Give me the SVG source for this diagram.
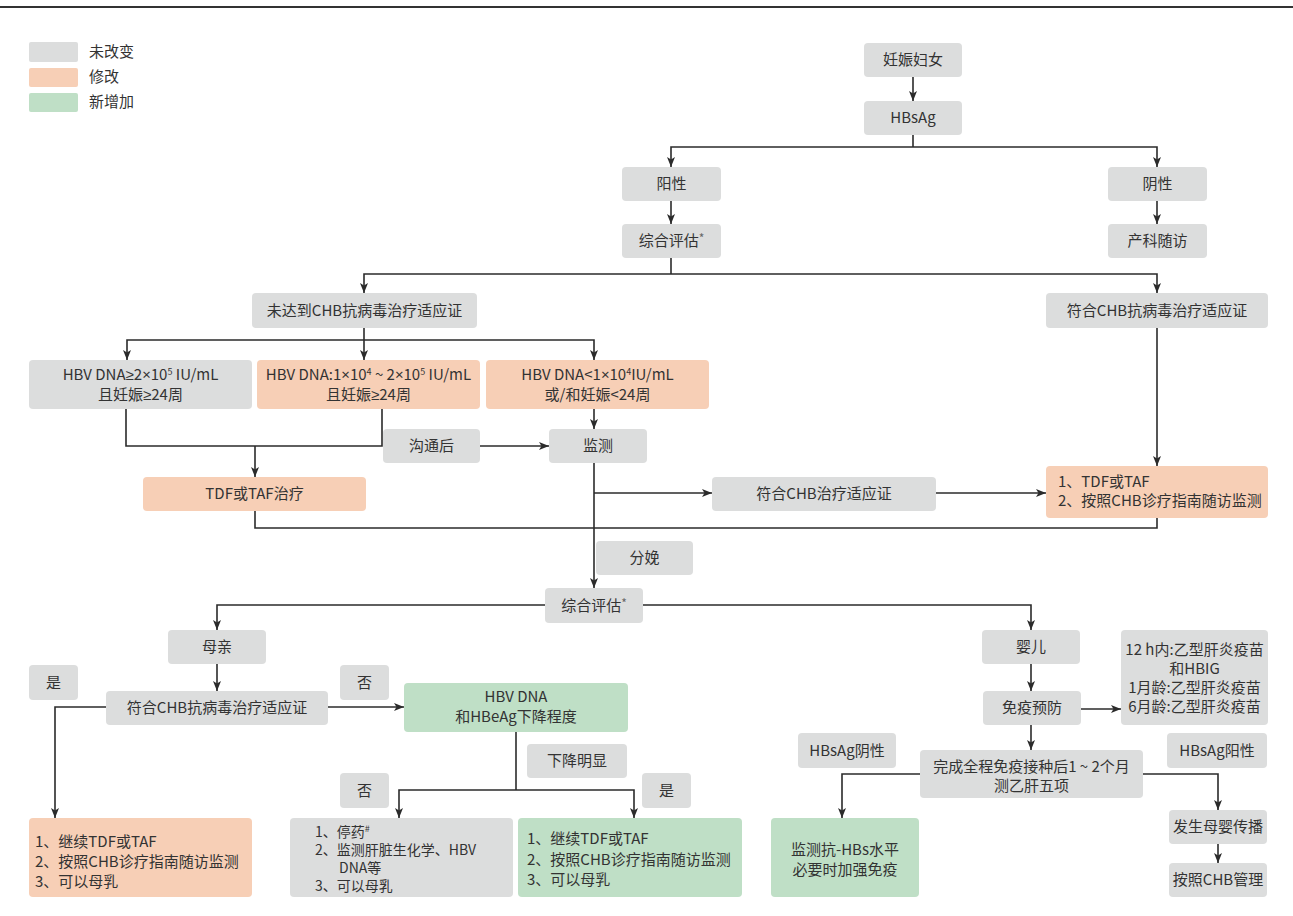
<svg xmlns="http://www.w3.org/2000/svg" width="1293" height="916" viewBox="0 0 1293 916">
<defs>
<marker id="ah" markerUnits="userSpaceOnUse" markerWidth="10" markerHeight="8" refX="10" refY="4" orient="auto">
<path d="M0,0 L10,4 L0,8 L2.5,4 z" fill="#2b2b2b"/>
</marker>
<style>
.g{fill:#dcdddd}
.o{fill:#f7cfb6}
.n{fill:#bfdfc6}
text{font-family:"Noto Sans CJK SC","Noto Sans",sans-serif;font-size:15px;fill:#333}
.c{text-anchor:middle}
.sup{font-size:9px}
.ast{font-size:12px;fill:#666}
.lat{font-family:"Noto Sans",sans-serif}
.sm{font-size:14px}
.ln{fill:none;stroke:#2b2b2b;stroke-width:1.6}
.la{fill:none;stroke:#2b2b2b;stroke-width:1.6;marker-end:url(#ah)}
</style>
</defs>
<rect width="1293" height="916" fill="#fff"/>
<line x1="0" y1="7" x2="1293" y2="7" stroke="#333" stroke-width="2.2"/>
<g id="legend">
<rect class="g" x="29" y="42" width="49" height="20" rx="2"/>
<rect class="o" x="29" y="68" width="49" height="19" rx="2"/>
<rect class="n" x="29" y="93" width="49" height="19" rx="2"/>
<text x="89" y="57">未改变</text>
<text x="89" y="82">修改</text>
<text x="89" y="107">新增加</text>
</g>
<g id="connectors">
<path class="la" d="M913,77 V101"/>
<path class="ln" d="M913,135 V147"/>
<path class="la" d="M913,147 H671 V167"/>
<path class="la" d="M913,147 H1157 V167"/>
<path class="la" d="M671,201 V224"/>
<path class="la" d="M1157,201 V224"/>
<path class="ln" d="M671,258 V274"/>
<path class="la" d="M671,274 H364 V293"/>
<path class="la" d="M671,274 H1157 V293"/>
<path class="ln" d="M364,328 V340"/>
<path class="la" d="M364,340 H127 V360"/>
<path class="la" d="M364,340 V360"/>
<path class="la" d="M364,340 H594 V360"/>
<path class="la" d="M594,409 V429"/>
<path class="ln" d="M126,409 V446 H382 V409"/>
<path class="la" d="M255,446 V477"/>
<path class="la" d="M480,446 H549"/>
<path class="la" d="M594,463 V588"/>
<path class="la" d="M594,493 H712"/>
<path class="la" d="M936,493 H1046"/>
<path class="la" d="M1157,328 V466"/>
<path class="ln" d="M255,511 V528 H1157 V518"/>
<path class="la" d="M545,605 H217 V630"/>
<path class="la" d="M643,605 H1031 V630"/>
<path class="la" d="M217,664 V691"/>
<path class="la" d="M106,707 H55 V818"/>
<path class="la" d="M328,707 H404"/>
<path class="ln" d="M516,732 V790"/>
<path class="la" d="M516,790 H399 V818"/>
<path class="la" d="M516,790 H634 V818"/>
<path class="la" d="M1031,664 V691"/>
<path class="la" d="M1081,709 H1121"/>
<path class="la" d="M1031,725 V750"/>
<path class="la" d="M920,774 H842 V818"/>
<path class="la" d="M1143,774 H1218 V810"/>
<path class="la" d="M1218,844 V863"/>
</g>
<g id="n_pregnant"><rect class="g" x="864" y="43" width="98" height="34" rx="4"/><text class="c" x="913" y="65">妊娠妇女</text></g>
<g id="n_hbsag"><rect class="g" x="864" y="101" width="98" height="34" rx="4"/><text class="c" x="913" y="123">HBsAg</text></g>
<g id="n_pos"><rect class="g" x="622" y="167" width="99" height="34" rx="4"/><text class="c" x="671.5" y="189">阳性</text></g>
<g id="n_neg"><rect class="g" x="1108" y="167" width="99" height="34" rx="4"/><text class="c" x="1157.5" y="189">阴性</text></g>
<g id="n_eval1"><rect class="g" x="622" y="224" width="99" height="34" rx="4"/><text class="c" x="671.5" y="246">综合评估<tspan class="ast" dy="-3">*</tspan></text></g>
<g id="n_obs"><rect class="g" x="1108" y="224" width="99" height="34" rx="4"/><text class="c" x="1157.5" y="246">产科随访</text></g>
<g id="n_notmet"><rect class="g" x="252" y="293" width="225" height="35" rx="4"/><text class="c" x="364.5" y="316">未达到CHB抗病毒治疗适应证</text></g>
<g id="n_met"><rect class="g" x="1046" y="293" width="222" height="35" rx="4"/><text class="c" x="1157" y="316">符合CHB抗病毒治疗适应证</text></g>
<g id="n_dna1"><rect class="g" x="29" y="360" width="223" height="49" rx="4"/>
<text class="c" x="140.5" y="380">HBV DNA<tspan class="lat">≥</tspan>2<tspan class="lat">×</tspan>10<tspan class="sup" dy="-5">5</tspan><tspan dy="5"> IU/mL</tspan></text>
<text class="c" x="140.5" y="400">且妊娠<tspan class="lat">≥</tspan>24周</text></g>
<g id="n_dna2"><rect class="o" x="257" y="360" width="223" height="49" rx="4"/>
<text class="c" x="368.5" y="380">HBV DNA:1<tspan class="lat">×</tspan>10<tspan class="sup" dy="-5">4</tspan><tspan dy="5"> ~ 2</tspan><tspan class="lat">×</tspan>10<tspan class="sup" dy="-5">5</tspan><tspan dy="5"> IU/mL</tspan></text>
<text class="c" x="368.5" y="400">且妊娠<tspan class="lat">≥</tspan>24周</text></g>
<g id="n_dna3"><rect class="o" x="486" y="360" width="223" height="49" rx="4"/>
<text class="c" x="597.5" y="380">HBV DNA&lt;1<tspan class="lat">×</tspan>10<tspan class="sup" dy="-5">4</tspan><tspan dy="5">IU/mL</tspan></text>
<text class="c" x="597.5" y="400">或/和妊娠&lt;24周</text></g>
<g id="n_comm"><rect class="g" x="383" y="429" width="97" height="34" rx="4"/><text class="c" x="431.5" y="451">沟通后</text></g>
<g id="n_monitor"><rect class="g" x="549" y="429" width="98" height="34" rx="4"/><text class="c" x="598" y="451">监测</text></g>
<g id="n_tdf"><rect class="o" x="143" y="477" width="223" height="34" rx="4"/><text class="c" x="254.5" y="499">TDF或TAF治疗</text></g>
<g id="n_meetchb"><rect class="g" x="712" y="477" width="224" height="34" rx="4"/><text class="c" x="824" y="499">符合CHB治疗适应证</text></g>
<g id="n_tdf2"><rect class="o" x="1046" y="466" width="222" height="52" rx="4"/>
<text x="1058" y="487">1、TDF或TAF</text><text x="1058" y="506">2、按照CHB诊疗指南随访监测</text></g>
<g id="n_deliv"><rect class="g" x="596" y="541" width="97" height="34" rx="4"/><text class="c" x="644.5" y="563">分娩</text></g>
<g id="n_eval2"><rect class="g" x="545" y="588" width="98" height="35" rx="4"/><text class="c" x="594" y="611">综合评估<tspan class="ast" dy="-3">*</tspan></text></g>
<g id="n_mother"><rect class="g" x="168" y="630" width="98" height="34" rx="4"/><text class="c" x="217" y="652">母亲</text></g>
<g id="n_infant"><rect class="g" x="982" y="630" width="98" height="34" rx="4"/><text class="c" x="1031" y="652">婴儿</text></g>
<g id="n_vacc"><rect class="g" x="1121" y="630" width="147" height="95" rx="4"/>
<text class="c" x="1194.5" y="655">12 h内:乙型肝炎疫苗</text>
<text class="c" x="1194.5" y="674">和HBIG</text>
<text class="c" x="1194.5" y="693">1月龄:乙型肝炎疫苗</text>
<text class="c" x="1194.5" y="712">6月龄:乙型肝炎疫苗</text></g>
<g id="n_yes1"><rect class="g" x="29" y="665" width="49" height="35" rx="4"/><text class="c" x="53.5" y="688">是</text></g>
<g id="n_meet2"><rect class="g" x="106" y="691" width="222" height="34" rx="4"/><text class="c" x="217" y="713">符合CHB抗病毒治疗适应证</text></g>
<g id="n_no1"><rect class="g" x="340" y="665" width="49" height="35" rx="4"/><text class="c" x="364.5" y="688">否</text></g>
<g id="n_decline"><rect class="n" x="404" y="683" width="224" height="49" rx="4"/>
<text class="c" x="516" y="702">HBV DNA</text><text class="c" x="516" y="722">和HBeAg下降程度</text></g>
<g id="n_immune"><rect class="g" x="983" y="691" width="98" height="34" rx="4"/><text class="c" x="1032" y="713">免疫预防</text></g>
<g id="n_dropsig"><rect class="g" x="527" y="744" width="100" height="34" rx="4"/><text class="c" x="577" y="766">下降明显</text></g>
<g id="n_no2"><rect class="g" x="340" y="773" width="49" height="35" rx="4"/><text class="c" x="364.5" y="796">否</text></g>
<g id="n_yes2"><rect class="g" x="642" y="773" width="49" height="35" rx="4"/><text class="c" x="666.5" y="796">是</text></g>
<g id="n_hbsneg"><rect class="g" x="798" y="733" width="98" height="35" rx="4"/><text class="c" x="847" y="756">HBsAg阴性</text></g>
<g id="n_hbspos"><rect class="g" x="1167" y="733" width="100" height="35" rx="4"/><text class="c" x="1217" y="756">HBsAg阳性</text></g>
<g id="n_complete"><rect class="g" x="920" y="750" width="223" height="48" rx="4"/>
<text class="c" x="1031.5" y="772">完成全程免疫接种后1 ~ 2个月</text><text class="c" x="1031.5" y="791">测乙肝五项</text></g>
<g id="n_out1"><rect class="o" x="29" y="818" width="223" height="79" rx="4"/>
<text x="35" y="847">1、继续TDF或TAF</text><text x="35" y="867">2、按照CHB诊疗指南随访监测</text><text x="35" y="887">3、可以母乳</text></g>
<g id="n_out2"><rect class="g" x="290" y="818" width="223" height="79" rx="4"/>
<text class="sm" x="315" y="837">1、停药<tspan class="sup" dy="-5">#</tspan></text>
<text class="sm" x="315" y="855">2、监测肝脏生化学、HBV</text>
<text class="sm" x="339" y="873">DNA等</text>
<text class="sm" x="315" y="891">3、可以母乳</text></g>
<g id="n_out3"><rect class="n" x="518" y="818" width="224" height="79" rx="4"/>
<text x="527" y="844">1、继续TDF或TAF</text><text x="527" y="865">2、按照CHB诊疗指南随访监测</text><text x="527" y="885">3、可以母乳</text></g>
<g id="n_out4"><rect class="n" x="771" y="818" width="148" height="79" rx="4"/>
<text class="c" x="845" y="855">监测抗-HBs水平</text><text class="c" x="845" y="875">必要时加强免疫</text></g>
<g id="n_mtct"><rect class="g" x="1169" y="810" width="98" height="34" rx="4"/><text class="c" x="1218" y="832">发生母婴传播</text></g>
<g id="n_chbmgmt"><rect class="g" x="1169" y="863" width="98" height="34" rx="4"/><text class="c" x="1218" y="885">按照CHB管理</text></g>
</svg>
